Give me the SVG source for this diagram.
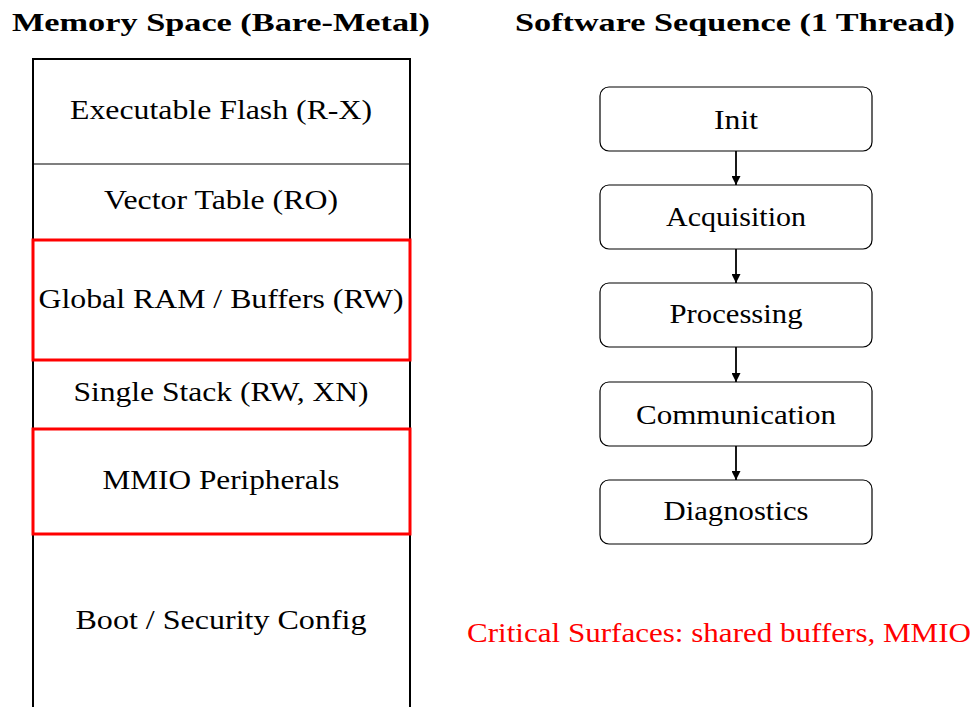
<svg xmlns="http://www.w3.org/2000/svg" width="974" height="707" viewBox="0 0 974 707">
<defs>
<style>
text{font-family:"Liberation Serif","Times New Roman",serif;font-size:28px;fill:#000;text-anchor:middle}
.title{font-weight:bold;font-size:26px}
.crit{fill:#ff0000}
.seg{fill:none;stroke:#000;stroke-width:1.2}
.hl{fill:none;stroke:#ff0000;stroke-width:3}
.box{fill:#fff;stroke:#000;stroke-width:1.2}
.arrow{stroke:#000;stroke-width:1.8;fill:none;marker-end:url(#ah)}
</style>
<marker id="ah" viewBox="0 0 10 10" refX="10" refY="5" markerWidth="6" markerHeight="5" markerUnits="strokeWidth" orient="auto">
<path d="M0,0 L10,5 L0,10 Z" fill="#000"/>
</marker>
</defs>
<rect width="974" height="707" fill="#fff"/>
<text class="title" x="221" y="31" textLength="418" lengthAdjust="spacingAndGlyphs">Memory Space (Bare-Metal)</text>
<text class="title" x="735" y="31" textLength="440" lengthAdjust="spacingAndGlyphs">Software Sequence (1 Thread)</text>
<g id="memory">
<path d="M33,720 L33,59 L410,59 L410,720" fill="none" stroke="#000" stroke-width="2"/>
<g id="flash"><line class="seg" x1="33" y1="164" x2="410" y2="164"/><text x="221" y="119" textLength="302" lengthAdjust="spacingAndGlyphs">Executable Flash (R-X)</text></g>
<g id="vector"><text x="221" y="209" textLength="234" lengthAdjust="spacingAndGlyphs">Vector Table (RO)</text></g>
<g id="global"><rect class="hl" x="33" y="240" width="377" height="120"/><text x="221" y="308" textLength="365" lengthAdjust="spacingAndGlyphs">Global RAM / Buffers (RW)</text></g>
<g id="stack"><text x="221" y="401" textLength="295" lengthAdjust="spacingAndGlyphs">Single Stack (RW, XN)</text></g>
<g id="mmio"><rect class="hl" x="33" y="429" width="377" height="105"/><text x="221" y="489" textLength="237" lengthAdjust="spacingAndGlyphs">MMIO Peripherals</text></g>
<g id="boot"><text x="221" y="629" textLength="291" lengthAdjust="spacingAndGlyphs">Boot / Security Config</text></g>
</g>
<g id="connectors">
<line class="arrow" x1="736" y1="151" x2="736" y2="185"/>
<line class="arrow" x1="736" y1="249" x2="736" y2="283"/>
<line class="arrow" x1="736" y1="347" x2="736" y2="382"/>
<line class="arrow" x1="736" y1="446" x2="736" y2="480"/>
</g>
<g id="init"><rect class="box" x="600" y="87" width="272" height="64" rx="9"/><text x="736" y="129" textLength="44" lengthAdjust="spacingAndGlyphs">Init</text></g>
<g id="acquisition"><rect class="box" x="600" y="185" width="272" height="64" rx="9"/><text x="736" y="226" textLength="140" lengthAdjust="spacingAndGlyphs">Acquisition</text></g>
<g id="processing"><rect class="box" x="600" y="283" width="272" height="64" rx="9"/><text x="736" y="323" textLength="133" lengthAdjust="spacingAndGlyphs">Processing</text></g>
<g id="communication"><rect class="box" x="600" y="382" width="272" height="64" rx="9"/><text x="736" y="424" textLength="200" lengthAdjust="spacingAndGlyphs">Communication</text></g>
<g id="diagnostics"><rect class="box" x="600" y="480" width="272" height="64" rx="9"/><text x="736" y="520" textLength="145" lengthAdjust="spacingAndGlyphs">Diagnostics</text></g>
<g id="critical"><text class="crit" x="719" y="642" textLength="504" lengthAdjust="spacingAndGlyphs">Critical Surfaces: shared buffers, MMIO</text></g>
</svg>
